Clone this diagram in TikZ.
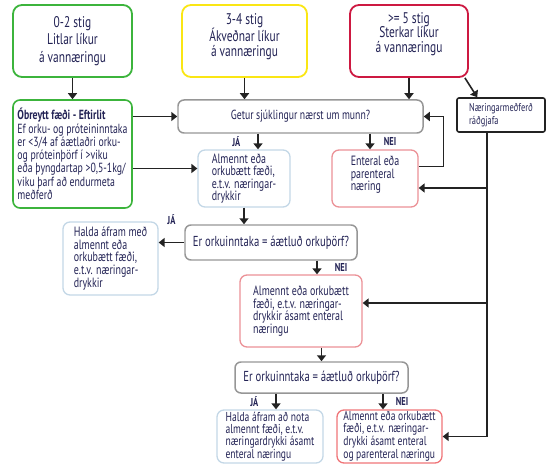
\documentclass[tikz,border=0pt]{standalone}
\usepackage{fontspec}
\setmainfont[FakeStretch=0.74]{PT Sans}
\usepackage{xcolor}
\definecolor{ink}{RGB}{35,35,85}
\definecolor{lowrisk}{RGB}{60,180,60}
\definecolor{midrisk}{RGB}{250,230,20}
\definecolor{highrisk}{RGB}{205,25,65}
\definecolor{askgray}{RGB}{150,150,150}
\definecolor{oralblue}{RGB}{195,215,230}
\definecolor{tubepink}{RGB}{235,145,150}
\definecolor{arrowc}{RGB}{35,35,35}
\usepackage{tikz}
\usetikzlibrary{arrows.meta,positioning,calc}
\tikzset{
  scorebox/.style={draw,line width=1.8pt,rounded corners=9pt,align=center,%
    font=\fontsize{15.5}{17.5}\selectfont,text=ink,inner sep=2pt},
  ask/.style={draw=askgray,line width=1.5pt,rounded corners=6pt,align=center,%
    font=\fontsize{14.5}{15}\selectfont,text=ink},
  plan/.style={line width=1.3pt,rounded corners=7pt,align=left,%
    font=\fontsize{13.5}{12.6}\selectfont,text=ink,inner sep=2pt},
  flow/.style={-{Triangle[length=6bp,width=9bp]},line width=1.6pt,draw=arrowc},
  tag/.style={font=\bfseries\fontsize{11.5}{12}\selectfont,text=ink,inner sep=1pt},
}

\begin{document}
\begin{tikzpicture}[x=1bp,y={(0bp,-1bp)}]
\useasboundingbox (0,0) rectangle (548,466);
% score boxes
\node[scorebox,draw=lowrisk,minimum width=119bp,minimum height=72bp] (low) at (72.5,41)
  {0-2 stig\\Litlar líkur\\á vannæringu};
\node[scorebox,draw=midrisk,minimum width=125bp,minimum height=72bp,%
  font=\fontsize{15.5}{14.8}\selectfont,text depth=12pt] (mid) at (244.5,41)
  {3-4 stig\\Ákveðnar líkur\\á vannæringu};
\node[scorebox,draw=highrisk,minimum width=118bp,minimum height=72bp,%
  font=\fontsize{15.5}{14.8}\selectfont,text depth=17pt] (high) at (409,41)
  {>= 5 stig\\Sterkar líkur\\á vannæringu};
% second row
\node[ask,minimum width=245bp,minimum height=33bp,font=\fontsize{13.2}{14}\selectfont] (oral) at (300.5,116.5)
  {Getur sjúklingur nærst um munn?};
\node[plan,draw=arrowc,line width=1.6pt,rounded corners=2pt,%
  font=\fontsize{11.4}{13}\selectfont,minimum width=88bp,minimum height=34bp] (dietitian) at (501,115)
  {Næringarmeðferð\\ráðgjafa};
\node[plan,draw=lowrisk,line width=1.6pt,minimum width=119bp,minimum height=108bp,%
  font=\fontsize{13.3}{13.3}\selectfont] (keep) at (72.5,154)
  {\textbf{Óbreytt fæði - Eftirlit}\\Ef orku- og próteininntaka\\er <3/4 af áætlaðri orku-\\%
   og próteinþörf í >viku\\eða þyngdartap >0,5-1kg/\\viku þarf að endurmeta\\meðferð};
\node[plan,draw=oralblue,minimum width=92bp,minimum height=57bp] (diet1) at (244,178.5)
  {Almennt eða\\orkubætt fæði,\\e.t.v. næringar-\\drykkir};
\node[plan,draw=tubepink,minimum width=86bp,minimum height=57bp,text depth=10pt] (tube) at (375,178.5)
  {Enteral eða\\parenteral\\næring};
% first energy check
\node[ask,minimum width=172bp,minimum height=35bp] (q1) at (271,242.5)
  {Er orkuinntaka = áætluð orkuþörf?};
\node[plan,draw=oralblue,minimum width=95bp,minimum height=73bp] (cont1) at (110.5,258.5)
  {Halda áfram með\\almennt eða\\orkubætt fæði,\\e.t.v. næringar-\\drykkir};
\node[plan,draw=tubepink,minimum width=122bp,minimum height=72bp] (diet2) at (301,311)
  {Almennt eða orkubætt\\fæði, e.t.v. næringar-\\drykkir ásamt enteral\\næringu};
% second energy check
\node[ask,minimum width=173bp,minimum height=31bp] (q2) at (321.5,377.5)
  {Er orkuinntaka = áætluð orkuþörf?};
\node[plan,draw=oralblue,minimum width=106bp,minimum height=53bp,inner ysep=1pt,%
  font=\fontsize{13}{11.8}\selectfont] (cont2) at (270,436.5)
  {Halda áfram að nota\\almennt fæði, e.t.v.\\næringardrykki ásamt\\enteral næringu};
\node[plan,draw=tubepink!80!red,minimum width=105bp,minimum height=53bp,inner ysep=1pt,%
  font=\fontsize{13}{11.8}\selectfont] (diet3) at (389.5,436.5)
  {Almennt eða orkubætt\\fæði, e.t.v. næringar-\\drykki ásamt enteral\\og parenteral næringu};

% connectors
\draw[flow] (low.south) -- (keep.north);
\draw[flow] (mid.south) -- (mid.south |- oral.north);
\draw[flow] (high.south) -- (high.south |- oral.north);
\draw[flow] ($(high.south east)+(-4,0)$) -- ($(dietitian.north west)+(21,0)$);
\draw[flow] (keep.east |- oral.west) -- (oral.west);
\coordinate (k2) at ($(diet1.west)+(0,-10)$);
\draw[flow] (k2 -| keep.east) -- (k2);
\coordinate (j1) at ($(diet1.north)+(14,0)$);
\draw[flow] (j1 |- oral.south) -- node[tag,left=16bp]{JÁ} (j1);
\coordinate (n1) at ($(tube.north)+(-5,0)$);
\draw[flow] (n1 |- oral.south) -- node[tag,right=12bp]{NEI} (n1);
\draw[flow] ($(tube.east)+(0,-12)$) -- ++(25,0) |- (oral.east);
% dietitian line
\coordinate (trunk) at ($(dietitian.south)+(-14,0)$);
\draw[flow] (trunk) |- (diet3.east);
\coordinate (t2) at ($(tube.east)+(0,9.5)$);
\draw[flow] (t2 -| trunk) -- (t2);
\coordinate (o2) at ($(diet2.east)+(0,-8)$);
\draw[flow] (o2 -| trunk) -- (o2);
% energy checks
\draw[flow] (diet1.south) -- (diet1.south |- q1.north);
\draw[flow] (q1.west) -- node[tag,above=16bp]{JÁ} (q1.west -| cont1.east);
\coordinate (n2) at ($(q1.south)+(46,0)$);
\draw[flow] (n2) -- node[tag,right=16bp]{NEI} (n2 |- diet2.north);
\draw[flow] (q2.north |- diet2.south) -- (q2.north);
\coordinate (j3) at ($(cont2.north)+(6,0)$);
\draw[flow] (j3 |- q2.south) -- node[tag,left=16bp]{JÁ} (j3);
\coordinate (n3) at ($(diet3.north)+(-6.5,0)$);
\draw[flow] (n3 |- q2.south) -- node[tag,right=11bp]{NEI} (n3);
\end{tikzpicture}
\end{document}
